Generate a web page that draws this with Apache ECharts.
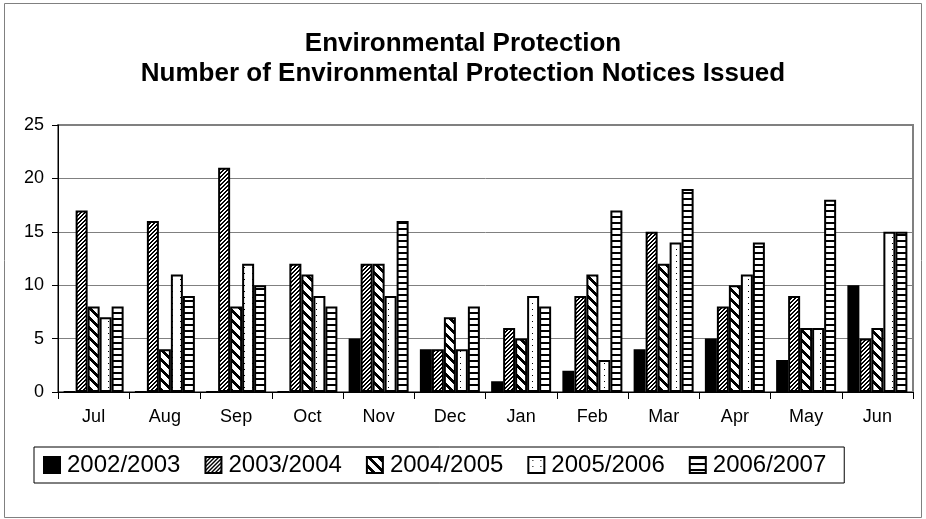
<!DOCTYPE html>
<html>
<head>
<meta charset="utf-8">
<script src="https://cdn.jsdelivr.net/npm/echarts@6/dist/echarts.min.js"></script>
<style>
    html, body { margin: 0; padding: 0; background: #fff; }
    #chart { width: 926px; height: 519px; }
</style>
</head>
<body>
<div id="chart"></div>
<script>
const months = ['Jul', 'Aug', 'Sep', 'Oct', 'Nov', 'Dec', 'Jan', 'Feb', 'Mar', 'Apr', 'May', 'Jun'];
const years = ['2002/2003', '2003/2004', '2004/2005', '2005/2006', '2006/2007'];
const y2002 = [0, 0, 0, 0, 5, 4, 1, 2, 4, 5, 3, 10];
const y2003 = [17, 16, 21, 12, 12, 4, 6, 9, 15, 8, 9, 5];
const y2004 = [8, 4, 8, 11, 12, 7, 5, 11, 12, 10, 6, 6];
const y2005 = [7, 11, 12, 9, 9, 4, 9, 3, 14, 11, 6, 15];
const y2006 = [8, 9, 10, 8, 16, 8, 8, 17, 19, 14, 18, 15];
const yTicks = [0, 5, 10, 15, 20, 25];

// small tiled canvases for the black & white fills
function pattern (w, h, test) {
    const c = document.createElement('canvas');
    c.width = w;
    c.height = h;
    const ctx = c.getContext('2d');
    ctx.fillStyle = '#fff';
    ctx.fillRect(0, 0, w, h);
    ctx.fillStyle = '#000';
    for (let x = 0; x < w; x++) {
        for (let y = 0; y < h; y++) {
            if (test(x, y)) ctx.fillRect(x, y, 1, 1);
        }
    }
    return { image: c, repeat: 'repeat' };
}

const fills = [
    '#000',
    pattern(4, 4, (x, y) => (x + y) % 4 < 2),
    pattern(10, 10, (x, y) => ((x - y) % 10 + 10) % 10 < 4),
    pattern(8, 6, (x, y) => x === 4 && y === 3),
    pattern(4, 6, (x, y) => y < 2)
];

const seriesData = [y2002, y2003, y2004, y2005, y2006];
const font = 'Liberation Sans, Arial, sans-serif';

let chart = echarts.init(document.getElementById('chart'));

const option = {
    animation: false,
    backgroundColor: '#fff',
    title: {
        text: 'Environmental Protection\nNumber of Environmental Protection Notices Issued',
        left: 'center',
        top: 29,
        padding: 0,
        textStyle: {
            fontFamily: font,
            fontSize: 26,
            fontWeight: 'bold',
            color: '#000',
            lineHeight: 30
        }
    },
    graphic: [{
        type: 'rect',
        shape: { x: 4.5, y: 3.5, width: 917, height: 514 },
        style: { fill: 'none', stroke: '#808080', lineWidth: 1 },
        silent: true,
        z: -1
    }],
    legend: {
        left: 34,
        top: 447,
        data: years,
        icon: 'rect',
        itemWidth: 16,
        itemHeight: 16,
        itemGap: 24,
        padding: [6, 18, 6, 9],
        borderColor: '#000',
        borderWidth: 1,
        textStyle: {
            fontFamily: font,
            fontSize: 24,
            color: '#000',
            padding: [0, 0, 0, 2]
        }
    },
    grid: {
        left: 58,
        right: 13,
        top: 125,
        bottom: 127,
        show: true,
        borderColor: '#808080',
        borderWidth: 2
    },
    xAxis: {
        type: 'category',
        data: months,
        axisLine: { lineStyle: { color: '#000', width: 1 } },
        axisTick: { show: true, length: 7, lineStyle: { color: '#000' } },
        axisLabel: {
            margin: 16,
            fontFamily: font,
            fontSize: 18,
            color: '#000'
        }
    },
    yAxis: {
        type: 'value',
        min: yTicks[0],
        max: yTicks[yTicks.length - 1],
        interval: 5,
        axisLine: { show: true, lineStyle: { color: '#000', width: 1 } },
        axisTick: { show: true, length: 6, lineStyle: { color: '#000' } },
        splitLine: { lineStyle: { color: '#808080', width: 1 } },
        axisLabel: {
            margin: 14,
            fontFamily: font,
            fontSize: 18,
            color: '#000'
        }
    },
    series: years.map((name, i) => ({
        name: name,
        type: 'bar',
        data: seriesData[i],
        barWidth: 12,
        barGap: '0%',
        itemStyle: {
            color: fills[i],
            borderColor: '#000',
            borderWidth: 2
        }
    }))
};

chart.setOption(option);
</script>
</body>
</html>
